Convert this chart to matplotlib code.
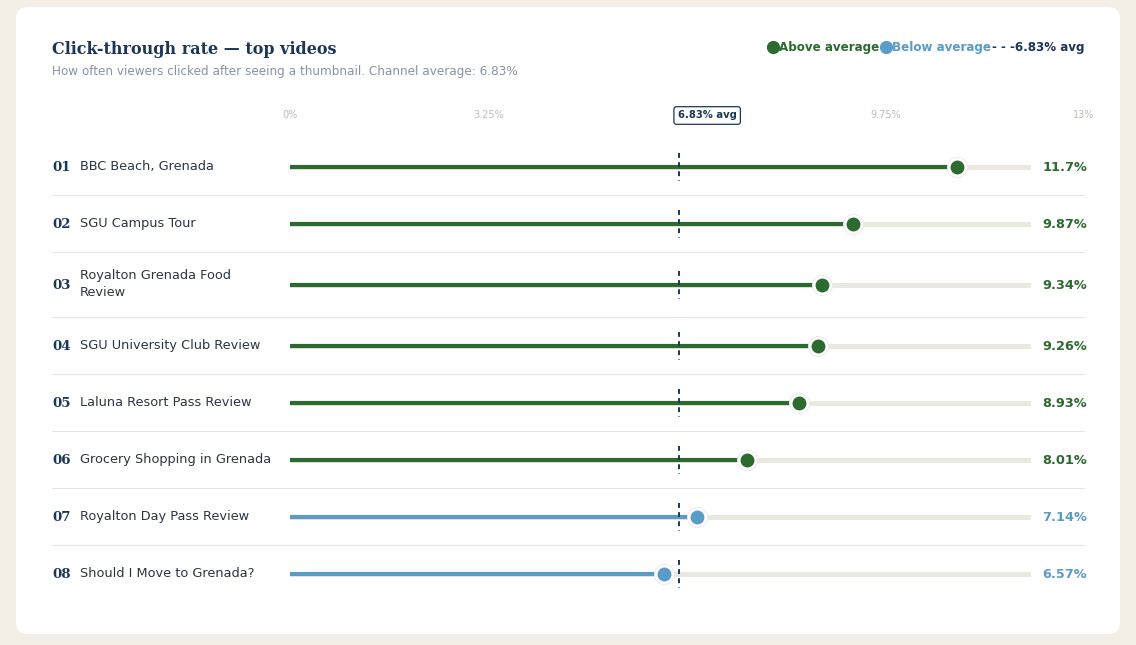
import matplotlib
matplotlib.use("Agg")
import matplotlib.pyplot as plt
from matplotlib.patches import FancyBboxPatch

# ---- data ----
ranks = ["01", "02", "03", "04", "05", "06", "07", "08"]
titles = ["BBC Beach, Grenada", "SGU Campus Tour", "Royalton Grenada Food\nReview",
          "SGU University Club Review", "Laluna Resort Pass Review",
          "Grocery Shopping in Grenada", "Royalton Day Pass Review",
          "Should I Move to Grenada?"]
ctr = [11.7, 9.87, 9.34, 9.26, 8.93, 8.01, 7.14, 6.57]
value_labels = ["11.7%", "9.87%", "9.34%", "9.26%", "8.93%", "8.01%", "7.14%", "6.57%"]
status = ["above", "above", "above", "above", "above", "above", "below", "below"]
avg = 6.83
tick_values = [0, 3.25, 6.5, 9.75, 13]
tick_labels = ["0%", "3.25%", "", "9.75%", "13%"]
x_max = 13

# ---- style ----
BG = "#f3efe7"
CARD = "#ffffff"
NAVY = "#1c3658"
GREEN = "#2c6a2f"
BLUE = "#5a9bc7"
TRACK = "#ebe8de"
TEXT = "#2b3545"
MUTED = "#8a93a3"
TICK = "#b8bcc3"
SEP = "#e6e6e6"

W, H = 1136, 645
fig = plt.figure(figsize=(W / 100, H / 100), dpi=100, facecolor=BG)

bg = fig.add_axes([0, 0, 1, 1])
bg.set_xlim(0, W)
bg.set_ylim(H, 0)
bg.axis("off")
bg.add_patch(FancyBboxPatch((16, 7), 1104, 627, boxstyle="round,pad=0,rounding_size=12",
                            facecolor=CARD, edgecolor="none", zorder=0))

bg.text(52, 50, "Click-through rate — top videos", family="DejaVu Serif", weight="bold",
        fontsize=11.5, color=NAVY, va="center", ha="left")
bg.text(52, 72, "How often viewers clicked after seeing a thumbnail. Channel average: 6.83%",
        fontsize=8.65, color=MUTED, va="center", ha="left")

# legend
bg.plot([773], [47], "o", ms=8.5, color=GREEN, zorder=3)
bg.text(779, 47, "Above average", fontsize=8.6, weight="bold", color=GREEN,
        va="center", ha="left")
bg.plot([886], [47], "o", ms=8.5, color=BLUE, zorder=3)
bg.text(892, 47, "Below average", fontsize=8.6, weight="bold", color=BLUE,
        va="center", ha="left")
bg.text(1084, 47, "- - -6.83% avg", fontsize=8.6, weight="bold", color=NAVY,
        va="center", ha="right")

# row layout
left_px, right_px = 290, 1031
base_h, extra = 57, 8
top = 138
centers, seps = [], []
y = top
for t in titles:
    h = base_h + extra * t.count("\n")
    centers.append(y + h / 2)
    y += h
    seps.append(y)
seps = seps[:-1]

ax = fig.add_axes([left_px / W, 0, (right_px - left_px) / W, 1])
ax.set_xlim(0, x_max)
ax.set_ylim(H, 0)
ax.axis("off")
ax.patch.set_alpha(0)

sx = fig.add_axes([left_px / W, 0, (1084 - left_px) / W, 1])
sx.set_xlim(0, x_max)
sx.set_ylim(H, 0)
sx.axis("off")
sx.patch.set_alpha(0)
for v, lab in zip(tick_values, tick_labels):
    if lab:
        sx.text(v, 115, lab, fontsize=7, color=TICK, ha="center", va="center")
sx.text(avg, 115.5, f"{avg}% avg", fontsize=7.2, weight="bold", color=NAVY, ha="center",
        va="center", bbox=dict(boxstyle="round,pad=0.38,rounding_size=0.25", fc="white",
                               ec=NAVY, lw=0.9))

for rk, title, v, vl, st, cy in zip(ranks, titles, ctr, value_labels, status, centers):
    col = GREEN if st == "above" else BLUE
    ax.plot([0, x_max], [cy, cy], color=TRACK, lw=3.6, solid_capstyle="round", zorder=1)
    ax.plot([0, v], [cy, cy], color=col, lw=3.0, solid_capstyle="round", zorder=2)
    ax.plot([avg, avg], [cy - 14, cy + 14], color=NAVY, lw=1.4, ls=(0, (2.5, 2.2)), zorder=3)
    ax.plot([v], [cy], "o", ms=14.5, color="white", mec="#e8e8e8", mew=0.6, zorder=4)
    ax.plot([v], [cy], "o", ms=10, color=col, mec="none", zorder=5)
    bg.text(52, cy + 1, rk, family="DejaVu Serif", weight="bold", fontsize=9.6, color=NAVY,
            va="center", ha="left")
    bg.text(80, cy, title, fontsize=9.3, color=TEXT, va="center", ha="left", linespacing=1.4)
    bg.text(1087, cy + 1, vl, fontsize=9.3, weight="bold", color=col, va="center", ha="right")

for s in seps:
    bg.plot([52, 1084], [s, s], color=SEP, lw=0.8, zorder=1)

fig.savefig("out.png", dpi=100, facecolor=BG)
